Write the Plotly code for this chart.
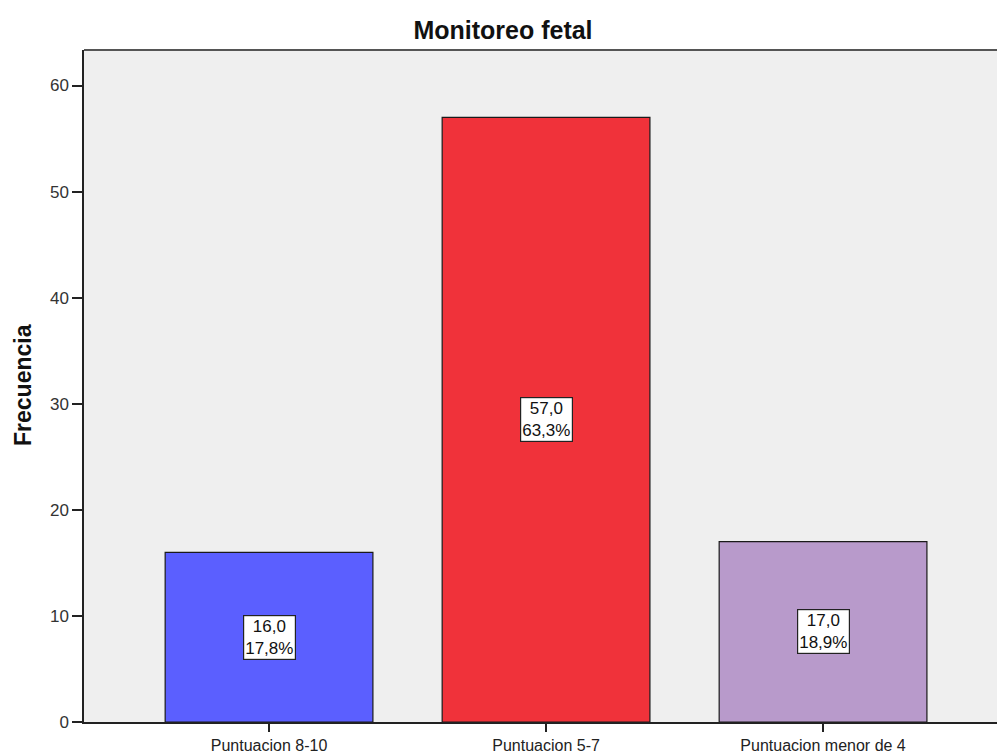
import plotly.graph_objects as go

# Frecuencias por categoría de puntuación
categorias = ["Puntuacion 8-10", "Puntuacion 5-7", "Puntuacion menor de 4"]
frecuencias = [16, 57, 17]
colores = ["#5B5FFF", "#F0323A", "#B89ACB"]

total = sum(frecuencias)
FUENTE = "Liberation Sans, Arial"

def fmt(v, dec=1):
    return f"{v:.{dec}f}".replace(".", ",")

fig = go.Figure()
fig.add_trace(go.Bar(
    x=list(range(len(categorias))),
    y=frecuencias,
    width=0.75,
    marker=dict(color=colores, line=dict(color="#1a1a1a", width=1.2)),
    hoverinfo="skip",
))

# Etiquetas con frecuencia y porcentaje en el centro de cada barra
for i, v in enumerate(frecuencias):
    fig.add_annotation(
        x=i, y=v / 2, xref="x", yref="y",
        text=f"{fmt(v)}<br>{fmt(100 * v / total)}%",
        showarrow=False,
        font=dict(family=FUENTE, size=17, color="#111111"),
        bgcolor="white", bordercolor="#222222", borderwidth=1.2, borderpad=1,
        align="center",
    )

# Título del eje Y
fig.add_annotation(
    xref="paper", yref="paper",
    x=(23 - 84) / (997 - 84), y=(722 - 385) / (722 - 50),
    xanchor="center", yanchor="middle",
    text="<b>Frecuencia</b>", showarrow=False, textangle=-90,
    font=dict(family=FUENTE, size=23, color="#111111"),
)

# Borde superior del área de trazado
fig.add_shape(type="line", xref="paper", yref="paper", x0=0, x1=1, y0=1, y1=1,
              line=dict(color="#555555", width=2))

fig.update_layout(
    width=997, height=756,
    margin=dict(l=84, r=0, t=50, b=34),
    paper_bgcolor="white",
    plot_bgcolor="#EFEFEF",
    showlegend=False,
    title=dict(
        text="<b>Monitoreo fetal</b>",
        x=503 / 997, xref="container", xanchor="center",
        y=1 - 30 / 756, yref="container", yanchor="middle",
        font=dict(family=FUENTE, size=25, color="#111111"),
    ),
    xaxis=dict(
        range=[-0.668, 2.628],
        tickvals=list(range(len(categorias))),
        ticktext=categorias,
        ticks="outside", ticklen=8, tickwidth=1.5, tickcolor="#222222",
        showline=True, linecolor="#222222", linewidth=1.5,
        showgrid=False, zeroline=False, automargin=False,
        tickfont=dict(family=FUENTE, size=16, color="#222222"),
    ),
    yaxis=dict(
        range=[0, 63.35],
        tickvals=[0, 10, 20, 30, 40, 50, 60],
        ticks="outside", ticklen=10, tickwidth=1.5, tickcolor="#222222",
        showline=True, linecolor="#222222", linewidth=1.5,
        showgrid=False, zeroline=False, automargin=False,
        tickfont=dict(family=FUENTE, size=17, color="#333333"),
    ),
)

fig.write_html("out.html")
